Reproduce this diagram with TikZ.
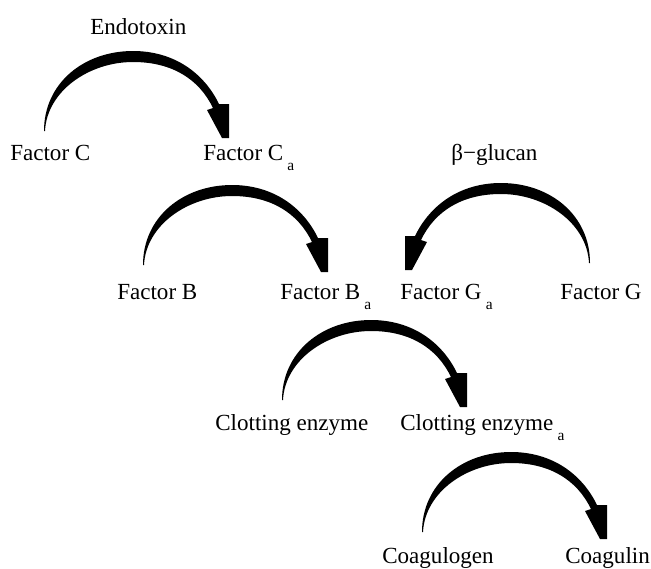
\documentclass[tikz,border=0pt]{standalone}
\usepackage{fontspec}
\setmainfont{Liberation Serif}
\usepackage{tikz}
\usetikzlibrary{calc}
\newcommand{\lbfont}{\fontsize{16.4}{18}\selectfont}
\newcommand{\actv}{\hspace{0.18em}\raisebox{-0.45em}{\fontsize{11}{11}\selectfont a}}
\tikzset{
  lbl/.style={font=\lbfont, inner sep=0pt, anchor=base west},
  bend arrow/.pic={
    \fill (0,0) .. controls (0,-48) and (40,-80) .. (89,-80)
      .. controls (130,-80) and (160,-58) .. (175,-27)
      -- (185,-27) -- (185,7) -- (178,7) -- (163,-21) -- (169,-23)
      .. controls (155,-52) and (128,-69) .. (89,-69)
      .. controls (45,-69) and (3,-40) .. (1,0) -- cycle;
  }
}
\begin{document}
\begin{tikzpicture}[x=0.025cm, y=-0.025cm]
\useasboundingbox (0,0) rectangle (651,568);
% labels
\node[lbl] (endo)   at (90,34)   {Endotoxin};
\node[lbl] (fC)     at (10,160)  {Factor C};
\node[lbl] (fCa)    at (203,160) {Factor C\actv};
\node[lbl] (glucan) at (451,160) {β−glucan};
\node[lbl] (fB)     at (117,299) {Factor B};
\node[lbl] (fBa)    at (280,299) {Factor B\actv};
\node[lbl] (fGa)    at (400,299) {Factor G\actv};
\node[lbl] (fG)     at (560,299) {Factor G};
\node[lbl] (ce)     at (215,430) {Clotting enzyme};
\node[lbl] (cea)    at (400,430) {Clotting enzyme\actv};
\node[lbl] (cgen)   at (382,563) {Coagulogen};
\node[lbl] (cgin)   at (565,563) {Coagulin};
% arrow feet
\coordinate (a1) at (44,131);
\coordinate (a2) at (143,265);
\coordinate (a3) at (590,263);
\coordinate (a4) at (282,400);
\coordinate (a5) at (422,532);
\pic at (a1) {bend arrow};
\pic at (a2) {bend arrow};
\pic[xscale=-1] at (a3) {bend arrow};
\pic at (a4) {bend arrow};
\pic at (a5) {bend arrow};
\end{tikzpicture}
\end{document}
